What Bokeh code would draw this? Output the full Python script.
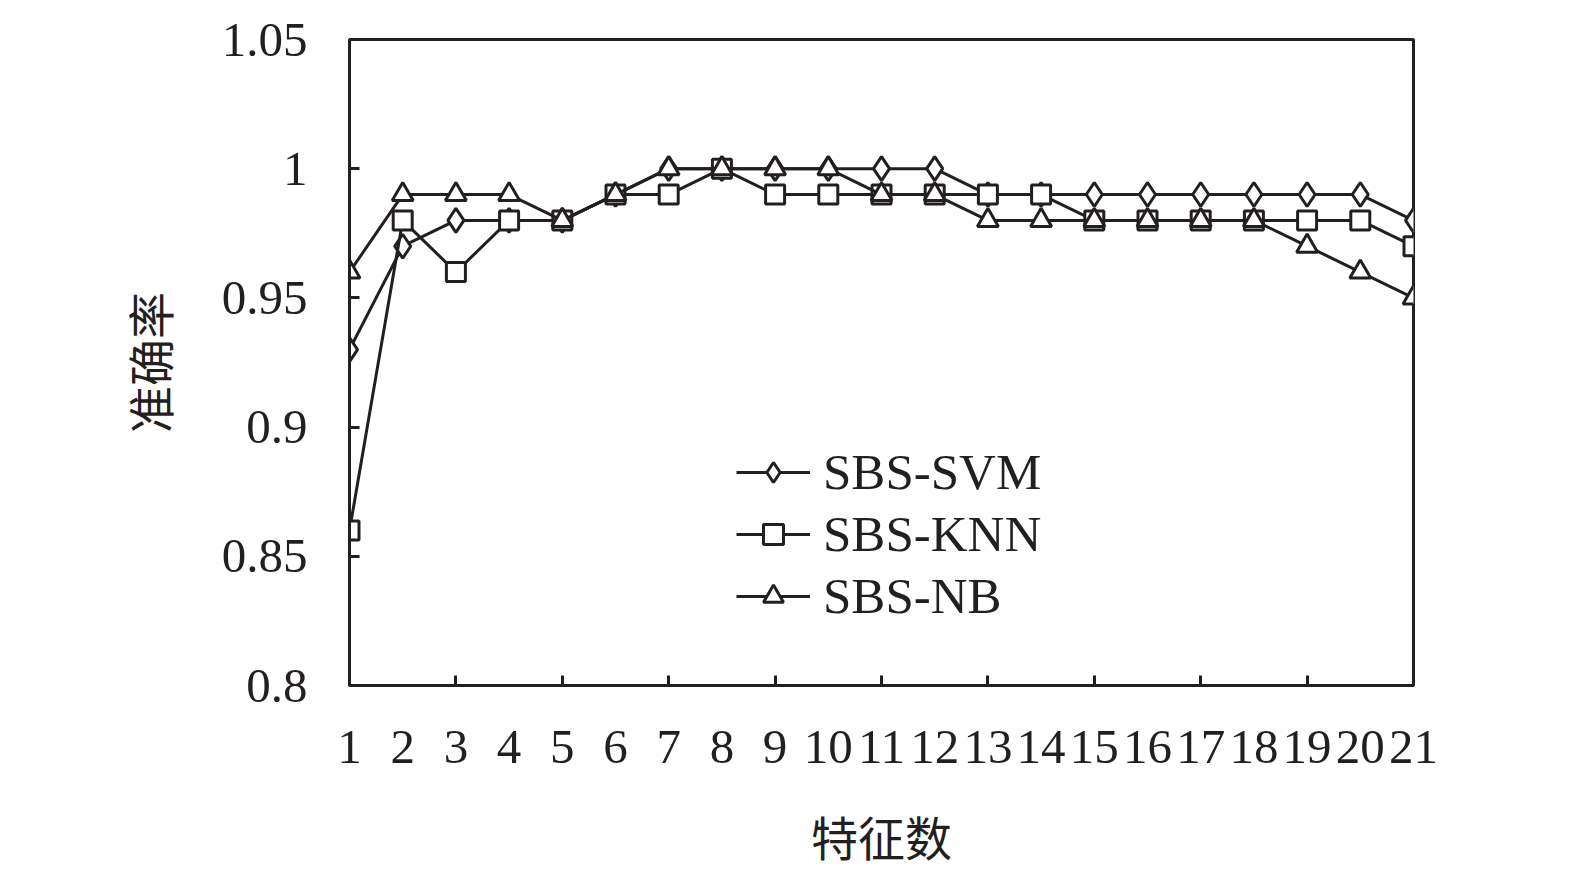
from bokeh.plotting import figure
from bokeh.models import FixedTicker, Range1d, Legend
from bokeh.embed import file_html
from bokeh.resources import INLINE

features = list(range(1, 22))
svm = [0.93, 0.97, 0.98, 0.98, 0.98, 0.99, 1.0, 1.0, 1.0, 1.0, 1.0, 1.0,
       0.99, 0.99, 0.99, 0.99, 0.99, 0.99, 0.99, 0.99, 0.98]
knn = [0.86, 0.98, 0.96, 0.98, 0.98, 0.99, 0.99, 1.0, 0.99, 0.99, 0.99, 0.99,
       0.99, 0.99, 0.98, 0.98, 0.98, 0.98, 0.98, 0.98, 0.97]
nb = [0.96, 0.99, 0.99, 0.99, 0.98, 0.99, 1.0, 1.0, 1.0, 1.0, 0.99, 0.99,
      0.98, 0.98, 0.98, 0.98, 0.98, 0.98, 0.97, 0.96, 0.95]
y_ticks = [0.8, 0.85, 0.9, 0.95, 1.0, 1.05]
y_tick_labels = ["0.8", "0.85", "0.9", "0.95", "1", "1.05"]
x_minor_ticks = [3, 5, 7, 9, 11, 13, 15, 17, 19]
names = ["SBS-SVM", "SBS-KNN", "SBS-NB"]
x_title = "特征数"
y_title = "准确率"

SERIF = "Liberation Serif"
CJK = "Liberation Serif, Noto Sans CJK SC"
INK = "#231f20"

W, H = 1560, 869
FL, FT, FW, FH = 349, 39, 1064, 646

p = figure(width=W, height=H, output_backend="svg", toolbar_location=None,
           x_range=Range1d(1, 21), y_range=Range1d(0.8, 1.05),
           min_border_left=FL, min_border_top=FT,
           min_border_right=W - FL - FW, min_border_bottom=H - FT - FH)
p.grid.visible = False
p.outline_line_color = INK
p.outline_line_width = 3
p.background_fill_color = "white"
p.border_fill_color = "white"

# x axis
p.xaxis.ticker = FixedTicker(ticks=features, minor_ticks=x_minor_ticks)
p.xaxis.major_tick_line_color = None
p.xaxis.minor_tick_in = 10
p.xaxis.minor_tick_out = 0
p.xaxis.minor_tick_line_width = 3
p.xaxis.minor_tick_line_color = INK
p.xaxis.major_tick_out = 0
p.xaxis.major_tick_in = 0
p.xaxis.major_label_standoff = 45
p.xaxis.axis_label = x_title
p.xaxis.axis_label_standoff = 48

# y axis
p.yaxis.ticker = FixedTicker(ticks=y_ticks)
p.yaxis.major_label_overrides = {t: l for t, l in zip(y_ticks, y_tick_labels)}
p.yaxis.major_tick_in = 10
p.yaxis.major_tick_out = 0
p.yaxis.minor_tick_line_color = None
p.yaxis.major_tick_line_width = 3
p.yaxis.major_tick_line_color = INK
p.yaxis.major_label_standoff = 42
p.yaxis.axis_label = y_title
p.yaxis.axis_label_standoff = 40

for ax in (p.xaxis, p.yaxis):
    ax.axis_line_width = 3
    ax.axis_line_color = INK
    ax.major_label_text_font = SERIF
    ax.major_label_text_font_size = "49px"
    ax.major_label_text_color = INK
    ax.axis_label_text_font = CJK
    ax.axis_label_text_font_size = "47px"
    ax.axis_label_text_font_style = "normal"
    ax.axis_label_text_color = INK

series = [svm, knn, nb]
markers = ["diamond", "square", "triangle"]
sizes = [24, 19, 21]
items = []
for name, ys, mk, sz in zip(names, series, markers, sizes):
    r1 = p.line(features, ys, line_color=INK, line_width=3)
    r2 = p.scatter(features, ys, marker=mk, size=sz, line_color=INK,
                   line_width=3, fill_color="white")
    items.append((name, [r1, r2]))

legend = Legend(items=items, location=(387, 60), glyph_width=74, glyph_height=50,
                label_height=50, spacing=4, label_standoff=13, padding=0, margin=0,
                border_line_color=None, background_fill_alpha=0,
                label_text_font=SERIF, label_text_font_size="51px",
                label_text_color=INK)
p.add_layout(legend, "center")

open("out.html", "w").write(file_html(p, INLINE))
